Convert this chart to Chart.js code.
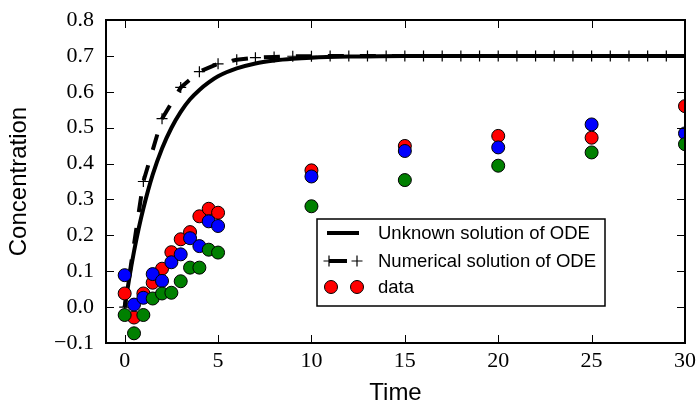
<!DOCTYPE html>
<html><head><meta charset="utf-8">
<script src="https://cdn.jsdelivr.net/npm/chart.js@4.4.1/dist/chart.umd.min.js"></script>
<style>html,body{margin:0;padding:0;background:#fff}#wrap{width:696px;height:406px;position:relative}</style>
</head><body><div id="wrap"><canvas id="c"></canvas></div>
<script>
// ---- data ----
const dataTimes   = [0, 0.5, 1, 1.5, 2, 2.5, 3, 3.5, 4, 4.5, 5, 10, 15, 20, 25, 30];
const redValues   = [0.038, -0.029, 0.038, 0.068, 0.107, 0.153, 0.189, 0.209, 0.253, 0.274, 0.263, 0.381, 0.449, 0.477, 0.472, 0.560];
const blueValues  = [0.089, 0.007, 0.026, 0.092, 0.073, 0.125, 0.147, 0.192, 0.170, 0.239, 0.226, 0.364, 0.435, 0.445, 0.509, 0.484];
const greenValues = [-0.022, -0.073, -0.022, 0.024, 0.038, 0.040, 0.072, 0.110, 0.110, 0.160, 0.152, 0.281, 0.354, 0.394, 0.431, 0.454];

const exactTimes  = [0, 0.25, 0.5, 0.75, 1, 1.5, 2, 2.5, 3, 3.5, 4, 4.5, 5, 6, 7, 8, 9, 10, 12, 15, 20, 25, 30];
const exactValues = [0, 0.082, 0.155, 0.219, 0.275, 0.369, 0.442, 0.499, 0.544, 0.579, 0.605, 0.626, 0.643, 0.665, 0.679, 0.687, 0.692, 0.695, 0.698, 0.700, 0.700, 0.700, 0.700];

const numericTimes  = [0,1,2,3,4,5,6,7,8,9,10,11,12,13,14,15,16,17,18,19,20,21,22,23,24,25,26,27,28,29,30];
const numericValues = [0, 0.350, 0.525, 0.612, 0.656, 0.678, 0.689, 0.695, 0.697, 0.699, 0.699, 0.700, 0.700, 0.700, 0.700, 0.700, 0.700, 0.700, 0.700, 0.700, 0.700, 0.700, 0.700, 0.700, 0.700, 0.700, 0.700, 0.700, 0.700, 0.700, 0.700];

const xTicks      = [0, 5, 10, 15, 20, 25, 30];
const xTickLabels = ['0', '5', '10', '15', '20', '25', '30'];
const yTicks      = [-0.1, 0, 0.1, 0.2, 0.3, 0.4, 0.5, 0.6, 0.7, 0.8];
const yTickLabels = ['\u22120.1', '0.0', '0.1', '0.2', '0.3', '0.4', '0.5', '0.6', '0.7', '0.8'];

const legendLabels = ['Unknown solution of ODE', 'Numerical solution of ODE', 'data'];
const xTitle = 'Time';
const yTitle = 'Concentration';

// ---- build ----
const pts = (xs, ys) => xs.map((x, i) => ({x: x, y: ys[i]}));
const SANS = '"Liberation Sans", Arial, sans-serif';
const SERIF = '"Liberation Serif", "Times New Roman", serif';

const dotStyle = (color, order) => ({
  showLine: false, pointRadius: 6.5, pointHoverRadius: 6.5, pointBorderWidth: 1,
  pointBackgroundColor: color, pointBorderColor: '#000', backgroundColor: color, borderColor: '#000',
  order: order, clip: 0
});

const frameTicks = {
  id: 'frameTicks',
  afterDatasetsDraw(chart) {
    const {ctx, chartArea: a, scales: {x, y}} = chart;
    ctx.save();
    ctx.strokeStyle = '#000';
    ctx.lineWidth = 1;
    ctx.beginPath();
    xTicks.forEach(v => {
      const p = Math.round(x.getPixelForValue(v)) + 0.5;
      ctx.moveTo(p, a.bottom); ctx.lineTo(p, a.bottom - 8);
      ctx.moveTo(p, a.top); ctx.lineTo(p, a.top + 8);
    });
    yTicks.forEach(v => {
      const p = Math.round(y.getPixelForValue(v)) + 0.5;
      ctx.moveTo(a.left, p); ctx.lineTo(a.left + 8, p);
      ctx.moveTo(a.right, p); ctx.lineTo(a.right - 8, p);
    });
    ctx.stroke();
    ctx.lineWidth = 2;
    ctx.strokeRect(a.left, a.top, a.right - a.left, a.bottom - a.top);
    ctx.restore();
  }
};

const boxLegend = {
  id: 'boxLegend',
  afterDraw(chart) {
    const {ctx, chartArea: a} = chart;
    const bx = a.left + 211, by = a.top + 199, bw = 288, bh = 87;
    ctx.save();
    ctx.fillStyle = '#fff';
    ctx.fillRect(bx, by, bw, bh);
    ctx.strokeStyle = '#000';
    ctx.lineWidth = 1.5;
    ctx.strokeRect(bx, by, bw, bh);
    const rows = [by + 14, by + 42, by + 68];
    // row 1: solid line
    ctx.lineWidth = 4;
    ctx.beginPath(); ctx.moveTo(bx + 10, rows[0]); ctx.lineTo(bx + 42, rows[0]); ctx.stroke();
    // row 2: dashed with pluses
    ctx.beginPath(); ctx.moveTo(bx + 12, rows[1]); ctx.lineTo(bx + 30, rows[1]); ctx.stroke();
    ctx.lineWidth = 1.2;
    [bx + 12, bx + 40].forEach(px => {
      ctx.beginPath();
      ctx.moveTo(px - 5.5, rows[1]); ctx.lineTo(px + 5.5, rows[1]);
      ctx.moveTo(px, rows[1] - 5.5); ctx.lineTo(px, rows[1] + 5.5);
      ctx.stroke();
    });
    // row 3: two red circles
    ctx.lineWidth = 1;
    [bx + 14, bx + 40].forEach(px => {
      ctx.beginPath(); ctx.arc(px, rows[2], 6.5, 0, Math.PI * 2);
      ctx.fillStyle = '#ff0000'; ctx.fill(); ctx.stroke();
    });
    ctx.fillStyle = '#000';
    ctx.font = '18.5px ' + SANS;
    ctx.textBaseline = 'middle';
    ctx.textAlign = 'left';
    legendLabels.forEach((t, i) => ctx.fillText(t, bx + 61, rows[i] + 1));
    ctx.restore();
  }
};

new Chart(document.getElementById('c'), {
  type: 'scatter',
  data: {
    datasets: [
      Object.assign({label: 'data', data: pts(dataTimes, redValues)}, dotStyle('#ff0000', 2)),
      Object.assign({label: 'data2', data: pts(dataTimes, blueValues)}, dotStyle('#0000ff', 1)),
      Object.assign({label: 'data3', data: pts(dataTimes, greenValues)}, dotStyle('#008000', 0)),
      {label: 'Numerical solution of ODE', data: pts(numericTimes, numericValues), showLine: true,
       borderColor: '#000', borderWidth: 4, borderDash: [16, 16], borderCapStyle: 'butt', tension: 0,
       pointStyle: 'cross', pointRadius: 5.5, pointHoverRadius: 5.5, pointBorderWidth: 1.2,
       pointBorderColor: '#000', pointBackgroundColor: '#000', order: 3, clip: 0},
      {label: 'Unknown solution of ODE', data: pts(exactTimes, exactValues), showLine: true,
       borderColor: '#000', borderWidth: 4, pointRadius: 0, pointHoverRadius: 0,
       cubicInterpolationMode: 'monotone', order: 4, clip: 0}
    ]
  },
  options: {
    responsive: true, maintainAspectRatio: false, animation: false, devicePixelRatio: 1,
    events: [],
    layout: {padding: {left: 0, right: 11, top: 20, bottom: 0}},
    plugins: {legend: {display: false}, tooltip: {enabled: false}},
    scales: {
      x: {
        type: 'linear', min: -1, max: 30,
        afterBuildTicks: s => { s.ticks = xTicks.map(v => ({value: v})); },
        afterFit: s => { s.height = 63; s.paddingLeft = 0; s.paddingRight = 0; },
        grid: {display: false, drawTicks: false}, border: {display: false},
        ticks: {callback: (v, i) => xTickLabels[i], color: '#000', padding: 5, maxRotation: 0,
                font: {family: SERIF, size: 22}},
        title: {display: true, text: xTitle, color: '#000', padding: {top: 0, bottom: -2},
                font: {family: SANS, size: 24}}
      },
      y: {
        type: 'linear', min: -0.1, max: 0.8,
        afterBuildTicks: s => { s.ticks = yTicks.map(v => ({value: v})); },
        afterFit: s => { s.width = 106; s.paddingTop = 0; s.paddingBottom = 0; },
        grid: {display: false, drawTicks: false}, border: {display: false},
        ticks: {callback: (v, i) => yTickLabels[i], color: '#000', padding: 12,
                font: {family: SERIF, size: 22}},
        title: {display: true, text: yTitle, color: '#000', padding: {top: 5, bottom: 0},
                font: {family: SANS, size: 24}}
      }
    }
  },
  plugins: [frameTicks, boxLegend]
});
</script></body></html>
